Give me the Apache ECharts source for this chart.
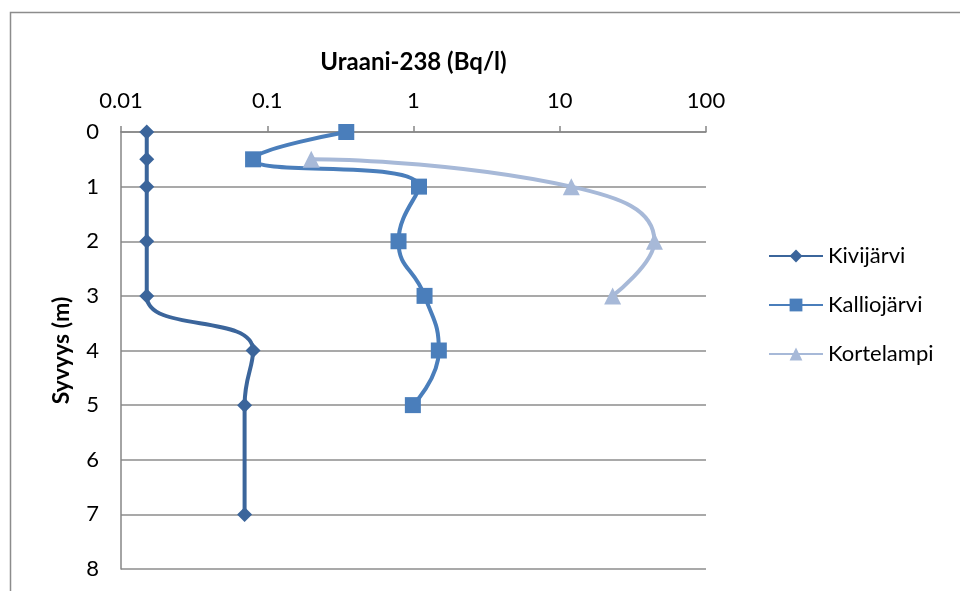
<!DOCTYPE html>
<html>
<head>
<meta charset="utf-8">
<script src="https://cdn.jsdelivr.net/npm/echarts@6/dist/echarts.min.js"></script>
<style>html,body{margin:0;padding:0;background:#fff}#c{width:960px;height:591px}</style>
</head>
<body>
<div id="c"></div>
<script>
var xTitle = 'Uraani-238 (Bq/l)';
var yTitle = 'Syvyys (m)';
var seriesNames = ['Kivijärvi', 'Kalliojärvi', 'Kortelampi'];
var kiviDepth = [0, 0.5, 1, 2, 3, 4, 5, 7];
var kiviValue = [0.015, 0.015, 0.015, 0.015, 0.015, 0.080, 0.070, 0.070];
var kallioDepth = [0, 0.5, 1, 2, 3, 4, 5];
var kallioValue = [0.347, 0.080, 1.09, 0.79, 1.19, 1.49, 0.99];
var korteDepth = [0.5, 1, 2, 3];
var korteValue = [0.20, 12, 44.4, 23];
var xTicks = ['0.01', '0.1', '1', '10', '100'];

function pairs(v, d){ return v.map(function(x,i){ return [x, d[i]]; }); }

var font = 'Lato, "Open Sans", sans-serif';
var chart = echarts.init(document.getElementById('c'), null, {renderer:'canvas'});
var colors = ['#3B659B', '#4A7EBB', '#A7B9D8'];
chart.setOption({
  animation: false,
  backgroundColor: '#fff',
  graphic: [{type:'rect', left: 8, top: 10, shape:{width: 1000, height: 1000}, style:{fill:'none', stroke:'#8c8c8c', lineWidth:1.5}, z: -1}],
  grid: {left: 121, top: 132, right: 254, bottom: 22},
  xAxis: {
    type: 'log', logBase: 10, min: 0.01, max: 100, position: 'top',
    name: xTitle, nameLocation: 'middle', nameGap: 58,
    nameTextStyle: {fontFamily: font, fontSize: 24, fontWeight: 'bold', color: '#000'},
    axisLine: {show: true, lineStyle: {color: '#868686', width: 1.5}},
    axisTick: {show: true, length: 6, lineStyle: {color: '#868686', width: 1.5}},
    axisLabel: {margin: 20, fontFamily: font, fontSize: 22, color: '#000',
      formatter: function(v){ var s = xTicks.find(function(t){ return Math.abs(parseFloat(t)-v) < v*1e-6; }); return s || ''; }},
    splitLine: {show: false}
  },
  yAxis: {
    type: 'value', inverse: true, min: 0, max: 8, interval: 1,
    name: yTitle, nameLocation: 'middle', nameGap: 48, nameRotate: 90,
    nameTextStyle: {fontFamily: font, fontSize: 23, fontWeight: 'bold', color: '#000'},
    axisLine: {show: true, lineStyle: {color: '#868686', width: 1.5}},
    axisTick: {show: false},
    axisLabel: {margin: 22, fontFamily: font, fontSize: 22, color: '#000'},
    splitLine: {show: true, lineStyle: {color: '#8c8c8c', width: 1.5}}
  },
  legend: {
    orient: 'vertical', left: 763, top: 240, itemGap: 27, itemWidth: 54, itemHeight: 16,
    textStyle: {fontFamily: font, fontSize: 22, color: '#000'},
    data: seriesNames
  },
  series: [
    {name: seriesNames[0], type: 'line', data: pairs(kiviValue, kiviDepth), smooth: 0.5,
     symbol: 'diamond', symbolSize: 15, color: colors[0], lineStyle: {width: 4}},
    {name: seriesNames[1], type: 'line', data: pairs(kallioValue, kallioDepth), smooth: 0.5,
     symbol: 'rect', symbolSize: 16, color: colors[1], lineStyle: {width: 4}},
    {name: seriesNames[2], type: 'line', data: pairs(korteValue, korteDepth), smooth: 0.5,
     symbol: 'triangle', symbolSize: 17, color: colors[2], lineStyle: {width: 4}}
  ]
});
</script>
</body>
</html>
